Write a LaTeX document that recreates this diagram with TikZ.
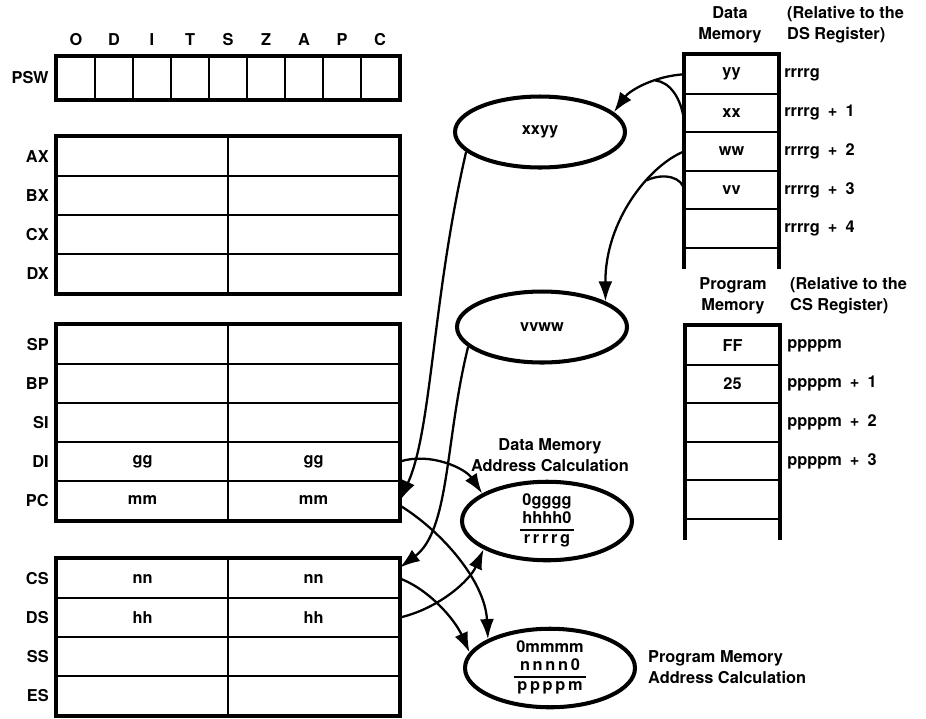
\documentclass[tikz,border=0pt]{standalone}
\usepackage{fontspec}
\setmainfont{TeX Gyre Heros}
\usetikzlibrary{arrows.meta,positioning,shapes.geometric,calc}
\setlength{\arrayrulewidth}{1pt}

\begin{document}
\begin{tikzpicture}[x=0.02cm,y=-0.02cm,
  font=\fontsize{9.3}{12}\selectfont\bfseries,
  flag/.style={draw,line width=1.1pt,minimum width=0.76cm,minimum height=0.84cm,inner sep=0pt},
  reg/.style={draw,line width=1.1pt,minimum width=3.42cm,minimum height=0.78cm,inner sep=0pt},
  mem/.style={draw,line width=1.2pt,minimum width=1.86cm,minimum height=0.772cm,inner sep=0pt},
  rim/.style={line width=2.3pt},
  word/.style={draw,ellipse,line width=2.3pt,minimum width=3.4cm,minimum height=1.42cm,inner sep=0pt,align=center},
  rname/.style={anchor=east,inner sep=0pt},
  addr/.style={anchor=west,inner sep=0pt},
  wire/.style={line width=1.3pt},
  link/.style={wire,-{Latex[length=4mm,width=2.8mm]}}
]
  \useasboundingbox (0,0) rectangle (926,718);
  % PSW
  \node[rname] (psw) at (49,78) {PSW};
  \foreach \f [count=\i] in {O,D,I,T,S,Z,A,P,C}{
    \node[flag] (f\i) at (38+38*\i,78) {};
    \node (t\i) at (38+38*\i,40) {\f};
  }
  \draw[rim] (f1.north west) rectangle (f9.south east);
  % general registers
  \foreach \n/\r/\y in {ax/AX/156.5,bx/BX/195.5,cx/CX/234.5,dx/DX/273.5}{
    \node[reg] (\n-hi) at (142.5,\y) {};
    \node[reg] (\n-lo) at (313.5,\y) {};
    \node[rname] (\n) at (49,\y) {\r};
  }
  \draw[rim] (ax-hi.north west) rectangle (dx-lo.south east);
  % pointer and index registers
  \foreach \n/\r/\y/\v in {sp/SP/344.5/{},bp/BP/383.5/{},si/SI/422.5/{},di/DI/461.5/gg,pc/PC/500.5/mm}{
    \node[reg] (\n-hi) at (142.5,\y) {\v};
    \node[reg] (\n-lo) at (313.5,\y) {\v};
    \node[rname] (\n) at (49,\y) {\r};
  }
  \draw[rim] (sp-hi.north west) rectangle (pc-lo.south east);
  % segment registers
  \foreach \n/\r/\y/\v in {cs/CS/578.5/nn,ds/DS/617.5/hh,ss/SS/656.5/{},es/ES/695.5/{}}{
    \node[reg] (\n-hi) at (142.5,\y) {\v};
    \node[reg] (\n-lo) at (313.5,\y) {\v};
    \node[rname] (\n) at (49,\y) {\r};
  }
  \draw[rim] (cs-hi.north west) rectangle (es-lo.south east);

  % Data memory
  \node[align=center] (dmt) at (730,25) {Data\\Memory};
  \node[align=left,anchor=west] (dmr) at (781,25) {(Relative to the\\DS Register)};
  \foreach \v [count=\i] in {yy,xx,ww,vv,{}}
    \node[mem] (dm\i) at (731.5,35.7+38.6*\i) {\v};
  \foreach \a [count=\i] in {rrrrg,rrrrg\enspace+\enspace1,rrrrg\enspace+\enspace2,rrrrg\enspace+\enspace3,rrrrg\enspace+\enspace4}
    \node[addr] (da\i) at (784,35.7+38.6*\i) {\a};
  \draw[rim] ($(dm5.south west)+(0,20)$) -- (dm1.north west) -- (dm1.north east) -- ($(dm5.south east)+(0,20)$);

  % Program memory
  \node[align=center] (pmt) at (733,296) {Program\\Memory};
  \node[align=left,anchor=west] (pmr) at (784,296) {(Relative to the\\CS Register)};
  \foreach \v [count=\i] in {FF,25,{},{},{}}
    \node[mem] (pm\i) at (732.5,306.7+38.6*\i) {\v};
  \foreach \a [count=\i] in {ppppm,ppppm\enspace+\enspace1,ppppm\enspace+\enspace2,ppppm\enspace+\enspace3}
    \node[addr] (pa\i) at (787,306.7+38.6*\i) {\a};
  \draw[rim] ($(pm5.south west)+(0,20)$) -- (pm1.north west) -- (pm1.north east) -- ($(pm5.south east)+(0,20)$);

  % words and address calculations
  \node[word] (xxyy) at (540,132) {xxyy};
  \node[word] (vvww) at (542,327) {vvww};
  \node[word] (dcalc) at (547,521) {\renewcommand\arraystretch{.85}\begin{tabular}{@{\,}c@{\,}}0gggg\\hhhh0\\\hline r\,r\,r\,r\,g\end{tabular}};
  \node[word] (pcalc) at (550,668) {\renewcommand\arraystretch{.85}\begin{tabular}{@{\,}c@{\,}}0mmmm\\n\,n\,n\,n\,0\\\hline p\,p\,p\,p\,m\end{tabular}};
  \node[align=center] (dhead) at (550,455) {Data Memory\\Address Calculation};
  \node[align=left,anchor=west] (phead) at (642,667) {Program Memory\\Address Calculation};

  % bytes to words
  \draw[link] (dm1.west) .. controls (655,76) and (630,90) .. (xxyy.15) coordinate[pos=0.35] (j1);
  \draw[wire] ([yshift=-0.14cm]dm2.west) .. controls (681,98) and (670,82) .. (j1);
  \draw[link] (dm3.west) .. controls (650,165) and (605,220) .. (vvww.22) coordinate[pos=0.35] (j2);
  \draw[wire] (dm4.west) .. controls (683,178) and (665,172) .. (j2);
  % words to registers
  \draw[link] (xxyy.195) .. controls (432,300) and (432,430) .. (pc-lo.east);
  \draw[link] (vvww.195) .. controls (445,440) and (450,530) .. ([yshift=0.22cm]cs-lo.east);
  % registers to address calculations
  \draw[link] (di-lo.east) .. controls (430,452) and (465,468) .. (dcalc.157);
  \draw[link] (ds-lo.east) .. controls (440,608) and (470,580) .. (dcalc.204);
  \draw[link] ([yshift=-0.1cm]pc-lo.east) .. controls (440,530) and (485,580) .. (pcalc.155);
  \draw[link] (cs-lo.east) .. controls (430,590) and (455,620) .. (pcalc.169);
\end{tikzpicture}
\end{document}
